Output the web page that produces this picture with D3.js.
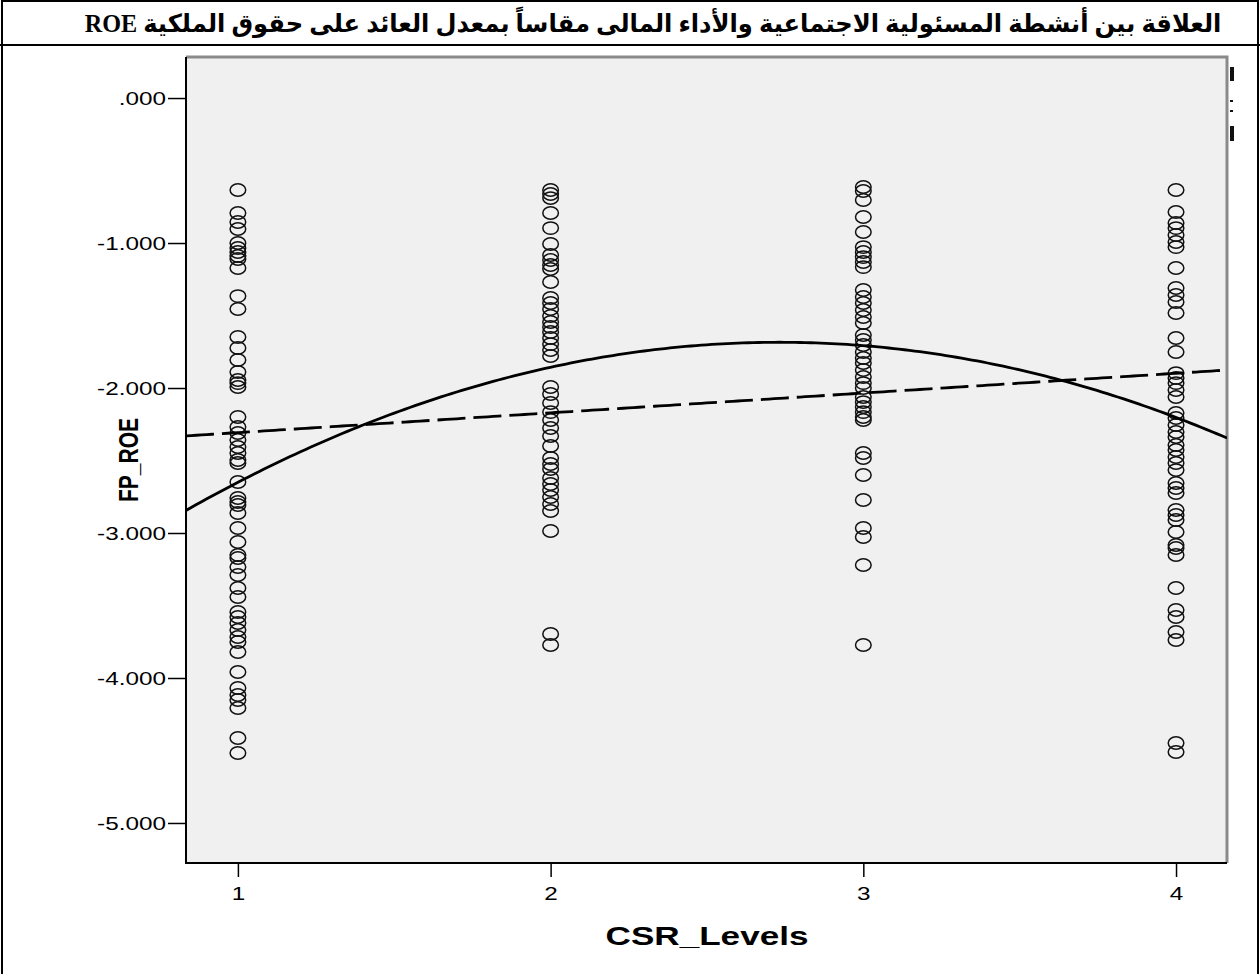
<!DOCTYPE html>
<html>
<head>
<meta charset="utf-8">
<script src="https://cdn.jsdelivr.net/npm/d3@7"></script>
<style>
  html, body { margin: 0; padding: 0; background: #fff; }
  svg { display: block; }
</style>
</head>
<body>
<svg id="chart" width="1260" height="974"></svg>
<script>
// ---- data -------------------------------------------------------------
const titleText = "العلاقة بين أنشطة المسئولية الاجتماعية والأداء المالى مقاساً بمعدل العائد على حقوق الملكية ROE";
const xTitle = "CSR_Levels";
const yTitle = "FP_ROE";

const csrLevels = [1, 2, 3, 4];

const roeLevel1 = [-0.634, -0.793, -0.855, -0.903, -1.000, -1.034, -1.062, -1.090, -1.110, -1.172,
  -1.366, -1.455, -1.648, -1.724, -1.807, -1.890, -1.945, -1.966, -1.993, -2.200, -2.269, -2.310,
  -2.359, -2.407, -2.448, -2.497, -2.517, -2.648, -2.759, -2.786, -2.807, -2.862, -2.966, -3.062,
  -3.152, -3.172, -3.234, -3.290, -3.379, -3.441, -3.545, -3.579, -3.621, -3.669, -3.717, -3.752,
  -3.821, -3.959, -4.069, -4.117, -4.152, -4.207, -4.414, -4.517];
const roeLevel2 = [-0.634, -0.662, -0.690, -0.793, -0.897, -1.007, -1.083, -1.117, -1.152, -1.179,
  -1.269, -1.379, -1.414, -1.455, -1.503, -1.545, -1.579, -1.614, -1.655, -1.697, -1.738, -1.779,
  -1.993, -2.041, -2.103, -2.166, -2.221, -2.276, -2.331, -2.400, -2.483, -2.524, -2.559, -2.621,
  -2.662, -2.703, -2.752, -2.800, -2.848, -2.986, -3.697, -3.772];
const roeLevel3 = [-0.614, -0.641, -0.703, -0.821, -0.924, -1.028, -1.062, -1.097, -1.131, -1.166,
  -1.324, -1.372, -1.414, -1.462, -1.510, -1.552, -1.634, -1.669, -1.703, -1.752, -1.793, -1.828,
  -1.876, -1.924, -1.966, -2.000, -2.062, -2.097, -2.131, -2.166, -2.200, -2.221, -2.448, -2.483,
  -2.600, -2.772, -2.966, -3.028, -3.221, -3.772];
const roeLevel4 = [-0.634, -0.786, -0.862, -0.897, -0.945, -0.993, -1.028, -1.172, -1.310, -1.359,
  -1.407, -1.483, -1.655, -1.752, -1.897, -1.931, -1.966, -2.014, -2.062, -2.172, -2.207, -2.255,
  -2.303, -2.338, -2.393, -2.428, -2.476, -2.517, -2.566, -2.655, -2.690, -2.724, -2.841, -2.876,
  -2.910, -2.993, -3.083, -3.103, -3.152, -3.379, -3.531, -3.579, -3.683, -3.738, -4.448, -4.510];

// fitted curves: linear b0 + b1*x, quadratic b0 + b1*x + b2*x^2
const linearCoef = [-2.444, 0.1364];
const quadraticCoef = [-4.088, 1.760, -0.3222];

const xDomain = [0.834, 4.163];
const yDomain = [-5.276, 0.283];
const yTickValues = [0, -1, -2, -3, -4, -5];
const yTickLabels = [".000", "-1.000", "-2.000", "-3.000", "-4.000", "-5.000"];
const xTickValues = [1, 2, 3, 4];
const xTickLabels = ["1", "2", "3", "4"];

// ---- layout -----------------------------------------------------------
const W = 1260, H = 974;
const plot = { left: 186, top: 57, right: 1227, bottom: 863 };
const STRETCH = 1.35;   // horizontal widening applied to all lettering
const TITLE_WIDTH = 1137;

const svg = d3.select("#chart");

svg.append("rect").attr("width", W).attr("height", H).attr("fill", "#fff");

// outer frame and title band
const frame = svg.append("g").attr("stroke", "#000").attr("stroke-width", 2).attr("fill", "none");
frame.append("line").attr("x1", 1).attr("x2", W - 1).attr("y1", 1).attr("y2", 1);
frame.append("line").attr("x1", 2).attr("x2", 2).attr("y1", 0).attr("y2", H);
frame.append("line").attr("x1", W - 2).attr("x2", W - 2).attr("y1", 0).attr("y2", H);
frame.append("line").attr("x1", 0).attr("x2", W).attr("y1", 45).attr("y2", 45);

// title: measured, then widened to span the band
const title = svg.append("text")
  .attr("text-anchor", "middle")
  .attr("direction", "rtl")
  .attr("font-family", "'Liberation Serif', 'DejaVu Sans', serif")
  .attr("font-weight", "bold")
  .attr("font-size", 25)
  .text(titleText);
const natural = title.node().getComputedTextLength();
title.attr("transform", `translate(653,32) scale(${TITLE_WIDTH / natural},1)`);

// scales
const x = d3.scaleLinear().domain(xDomain).range([plot.left, plot.right]);
const y = d3.scaleLinear().domain(yDomain).range([plot.bottom, plot.top]);

// plot background
svg.append("rect")
  .attr("x", plot.left).attr("y", plot.top)
  .attr("width", plot.right - plot.left).attr("height", plot.bottom - plot.top)
  .attr("fill", "#f0f0f0");

// clipped legend remnants at the right edge of the plot frame
const stub = svg.append("g").attr("fill", "#111");
stub.append("rect").attr("x", plot.right + 3).attr("y", 67).attr("width", 4).attr("height", 14);
stub.append("rect").attr("x", plot.right + 3).attr("y", 100).attr("width", 3).attr("height", 2);
stub.append("rect").attr("x", plot.right + 3).attr("y", 110).attr("width", 3).attr("height", 2);
stub.append("rect").attr("x", plot.right + 3).attr("y", 126).attr("width", 4).attr("height", 15);

// grey frame on top and right
svg.append("path")
  .attr("d", `M${plot.left},${plot.top}H${plot.right}V${plot.bottom}`)
  .attr("fill", "none").attr("stroke", "#8a8a8a").attr("stroke-width", 3);

// points
const pointGroups = [roeLevel1, roeLevel2, roeLevel3, roeLevel4];
const points = pointGroups.flatMap((vals, i) => vals.map(v => ({ x: csrLevels[i], y: v })));

svg.append("g")
  .selectAll("ellipse")
  .data(points)
  .join("ellipse")
  .attr("cx", d => x(d.x))
  .attr("cy", d => y(d.y))
  .attr("rx", 7.8)
  .attr("ry", 6.2)
  .attr("fill", "none")
  .attr("stroke", "#111")
  .attr("stroke-width", 1.5);

// fit lines
const clipId = "plotClip";
svg.append("clipPath").attr("id", clipId).append("rect")
  .attr("x", plot.left).attr("y", plot.top)
  .attr("width", plot.right - plot.left).attr("height", plot.bottom - plot.top);

const xs = d3.range(0, 201).map(i => xDomain[0] + (xDomain[1] - xDomain[0]) * i / 200);
const poly = c => xv => c.reduce((s, b, k) => s + b * Math.pow(xv, k), 0);
const lineGen = d3.line().x(d => x(d[0])).y(d => y(d[1]));

svg.append("path")
  .attr("clip-path", `url(#${clipId})`)
  .attr("d", lineGen(xs.map(v => [v, poly(linearCoef)(v)])))
  .attr("fill", "none").attr("stroke", "#000").attr("stroke-width", 2.8)
  .attr("stroke-dasharray", "28,8");

svg.append("path")
  .attr("clip-path", `url(#${clipId})`)
  .attr("d", lineGen(xs.map(v => [v, poly(quadraticCoef)(v)])))
  .attr("fill", "none").attr("stroke", "#000").attr("stroke-width", 2.8);

// axes
const yAxis = d3.axisLeft(y).tickValues(yTickValues).tickSize(18).tickPadding(0)
  .tickFormat((d, i) => yTickLabels[i]);
const gy = svg.append("g").attr("transform", `translate(${plot.left},0)`).call(yAxis);
gy.select(".domain").remove();
gy.selectAll(".tick line").attr("stroke", "#000").attr("stroke-width", 1.5);
gy.selectAll(".tick text")
  .attr("x", null).attr("dy", null)
  .attr("font-family", "'Liberation Sans', Arial, sans-serif")
  .attr("font-size", 18).attr("fill", "#000")
  .attr("text-anchor", "end")
  .attr("transform", `translate(-20,6.5) scale(${STRETCH},1)`);

const xAxis = d3.axisBottom(x).tickValues(xTickValues).tickSize(14).tickPadding(0)
  .tickFormat((d, i) => xTickLabels[i]);
const gx = svg.append("g").attr("transform", `translate(0,${plot.bottom})`).call(xAxis);
gx.select(".domain").remove();
gx.selectAll(".tick line").attr("stroke", "#000").attr("stroke-width", 1.5);
gx.selectAll(".tick text")
  .attr("y", null).attr("dy", null)
  .attr("font-family", "'Liberation Sans', Arial, sans-serif")
  .attr("font-size", 18).attr("fill", "#000")
  .attr("transform", `translate(0,37) scale(${STRETCH},1)`);

// axis lines
svg.append("path")
  .attr("d", `M${plot.left},${plot.top}V${plot.bottom}H${plot.right}`)
  .attr("fill", "none").attr("stroke", "#000").attr("stroke-width", 2);

// axis titles
svg.append("text")
  .attr("transform", `translate(707,945) scale(${STRETCH},1)`)
  .attr("text-anchor", "middle")
  .attr("font-family", "'Liberation Sans', Arial, sans-serif")
  .attr("font-weight", "bold").attr("font-size", 26)
  .text(xTitle);

svg.append("text")
  .attr("transform", `translate(138,460) scale(${STRETCH},1) rotate(-90)`)
  .attr("text-anchor", "middle")
  .attr("font-family", "'Liberation Sans', Arial, sans-serif")
  .attr("font-weight", "bold").attr("font-size", 21)
  .text(yTitle);
</script>
</body>
</html>
